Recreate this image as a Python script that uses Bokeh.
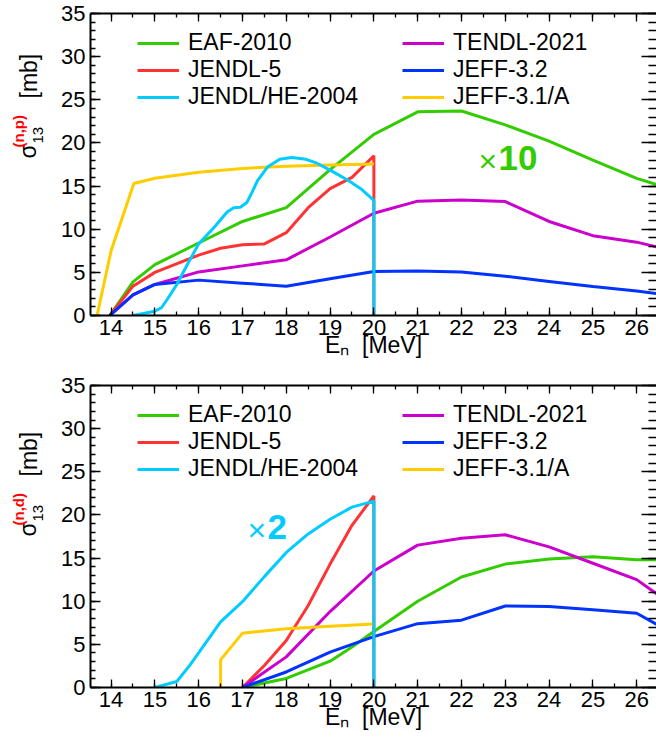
import math
from bokeh.plotting import figure
from bokeh.models import (Range1d, LinearAxis, SingleIntervalTicker, Label, Legend, LegendItem)
from bokeh.layouts import column, row
from bokeh.embed import file_html
from bokeh.resources import INLINE

FONT = "Liberation Sans"

# ---------------- data ----------------
names = ["EAF-2010", "JENDL-5", "JENDL/HE-2004", "TENDL-2021", "JEFF-3.2", "JEFF-3.1/A"]
colors = ["#33cc00", "#ff3333", "#00ccff", "#cc00cc", "#0033ff", "#ffcc00"]
x_ticks_major = 1
y_ticks_major = 5

# (n,p) panel, cross sections in mb vs E_n in MeV
np_eaf_e = [13.97, 14.5, 15, 16, 17, 18, 19, 20, 21, 22, 23, 24, 25, 26, 26.5]
np_eaf_s = [0, 3.9, 5.9, 8.4, 10.9, 12.5, 16.9, 21.0, 23.6, 23.7, 22.1, 20.2, 18.0, 15.9, 15.1]
np_jendl5_e = [13.97, 14.5, 15, 16, 16.5, 17, 17.5, 18, 18.5, 19, 19.5, 20, 20]
np_jendl5_s = [0, 3.4, 5.0, 7.0, 7.8, 8.2, 8.3, 9.6, 12.5, 14.7, 16.0, 18.5, 0]
np_jendlhe_e = [14.5, 15.0, 15.15, 15.3, 15.5, 15.75, 16.0, 16.35, 16.65, 16.8, 16.95, 17.1,
                17.22, 17.34, 17.57, 17.85, 18.13, 18.45, 18.7, 19.0, 19.4, 19.7, 20.0, 20.0]
np_jendlhe_s = [0, 0.5, 0.9, 2.0, 3.6, 6.0, 8.3, 10.2, 12.0, 12.5, 12.55, 13.1,
                14.3, 15.6, 17.2, 18.1, 18.3, 18.1, 17.65, 16.85, 15.7, 14.7, 13.35, 0]
np_tendl_e = [13.97, 14.5, 15, 16, 17, 18, 19, 20, 21, 22, 23, 24, 25, 26, 26.5]
np_tendl_s = [0, 2.4, 3.6, 5.05, 5.75, 6.45, 9.1, 11.85, 13.25, 13.4, 13.2, 10.9, 9.25, 8.5, 7.9]
np_jeff32_e = [13.97, 14.5, 15, 16, 17, 18, 19, 20, 21, 22, 23, 24, 25, 26, 26.5]
np_jeff32_s = [0, 2.4, 3.6, 4.1, 3.75, 3.4, 4.25, 5.1, 5.15, 5.05, 4.55, 3.95, 3.35, 2.85, 2.5]
np_jeff31_e = [13.68, 14.0, 14.52, 15, 16, 17, 18, 19, 20]
np_jeff31_s = [0, 7.5, 15.3, 15.9, 16.6, 17.05, 17.3, 17.45, 17.55]

# (n,d) panel
nd_eaf_e = [17, 18, 19, 19.5, 20, 21, 22, 23, 24, 25, 26, 26.5]
nd_eaf_s = [0, 1.05, 3.05, 4.7, 6.5, 10.0, 12.8, 14.3, 14.9, 15.15, 14.8, 14.8]
nd_jendl5_e = [17, 17.5, 18, 18.5, 19, 19.5, 20, 20]
nd_jendl5_s = [0, 2.55, 5.45, 9.5, 14.3, 18.8, 22.2, 0]
nd_jendlhe_e = [15, 15.5, 15.8, 16.5, 17, 17.5, 18, 18.5, 19, 19.5, 20, 20]
nd_jendlhe_s = [0, 0.7, 2.6, 7.6, 9.95, 12.85, 15.65, 17.8, 19.5, 20.9, 21.6, 0]
nd_tendl_e = [17, 18, 19, 20, 21, 22, 23, 24, 25, 26, 26.5]
nd_tendl_s = [0, 3.55, 8.8, 13.5, 16.5, 17.3, 17.7, 16.3, 14.4, 12.5, 10.7]
nd_jeff32_e = [17, 18, 19, 20, 21, 22, 23, 24, 25, 26, 26.5]
nd_jeff32_s = [0, 1.8, 4.1, 5.9, 7.4, 7.8, 9.45, 9.4, 9.0, 8.6, 7.2]
nd_jeff31_e = [16.5, 16.5, 17, 18, 19, 20]
nd_jeff31_s = [0, 3.2, 6.3, 6.8, 7.1, 7.35]

np_series = [(np_eaf_e, np_eaf_s), (np_jendl5_e, np_jendl5_s), (np_jendlhe_e, np_jendlhe_s),
             (np_tendl_e, np_tendl_s), (np_jeff32_e, np_jeff32_s), (np_jeff31_e, np_jeff31_s)]
nd_series = [(nd_eaf_e, nd_eaf_s), (nd_jendl5_e, nd_jendl5_s), (nd_jendlhe_e, nd_jendlhe_s),
             (nd_tendl_e, nd_tendl_s), (nd_jeff32_e, nd_jeff32_s), (nd_jeff31_e, nd_jeff31_s)]

# ---------------- layout constants ----------------
W = 656
WL = 50          # width of the strip holding the y-axis title
FL = 90          # frame left (page px)
FRAME_W = W - FL
FRAME_H = 302
TOP = 13
X0 = 13.53
SX = 43.8        # px per MeV
X1 = X0 + FRAME_W / SX


def style_axis(ax, tick_in, minor_in, show_labels):
    ax.axis_line_width = 2
    ax.axis_line_color = "black"
    ax.major_tick_in = tick_in
    ax.major_tick_out = 0
    ax.minor_tick_in = minor_in
    ax.minor_tick_out = 0
    ax.major_tick_line_width = 1.3
    ax.minor_tick_line_width = 1.3
    ax.major_tick_line_color = "black"
    ax.minor_tick_line_color = "black"
    ax.major_label_text_font = FONT
    if show_labels:
        ax.major_label_text_font_size = "22px"
        ax.major_label_text_color = "black"
        ax.major_label_standoff = 4
    else:
        ax.major_label_text_font_size = "1px"
        ax.major_label_text_color = None
        ax.major_label_standoff = 0


def title_strip(height, reaction):
    s = figure(width=WL, height=height, x_range=Range1d(0, WL), y_range=Range1d(0, height),
               output_backend="svg", toolbar_location=None, x_axis_type=None, y_axis_type=None,
               min_border=0)
    s.outline_line_color = None
    s.grid.visible = False
    a = math.pi / 2

    def lab(text, px, py_rel, size, color="black", bold=False):
        s.add_layout(Label(x=px, y=height - (TOP + py_rel), x_units="screen", y_units="screen",
                           text=text, angle=a, angle_units="rad",
                           text_font=FONT, text_font_size=size, text_color=color,
                           text_font_style="bold" if bold else "normal",
                           text_align="left", text_baseline="middle"))
    lab("σ", 27, 202, "23px")
    lab("13", 37, 187, "15px")
    lab(reaction, 17.5, 191, "15px", color="#ff0000", bold=True)
    lab("[mb]", 28, 142, "23px")
    return s


def make_panel(series, height, bottom_border, mult, mult_color, mult_pos):
    p = figure(width=W - WL, height=height, x_range=Range1d(X0, X1), y_range=Range1d(0, 35),
               output_backend="svg", toolbar_location=None,
               x_axis_type=None, y_axis_type=None,
               min_border_left=FL - WL, min_border_right=0,
               min_border_top=TOP, min_border_bottom=bottom_border)
    p.outline_line_color = None

    xb = LinearAxis(ticker=SingleIntervalTicker(interval=x_ticks_major, num_minor_ticks=2))
    style_axis(xb, 8, 4, True)
    xb.axis_label = "Eₙ\u00a0\u00a0[MeV]"
    xb.axis_label_text_font = FONT
    xb.axis_label_text_font_size = "23px"
    xb.axis_label_text_font_style = "normal"
    xb.axis_label_text_color = "black"
    xb.axis_label_standoff = -6
    p.add_layout(xb, "below")
    xt = LinearAxis(ticker=SingleIntervalTicker(interval=x_ticks_major, num_minor_ticks=2))
    style_axis(xt, 8, 4, False)
    p.add_layout(xt, "above")
    yl = LinearAxis(ticker=SingleIntervalTicker(interval=y_ticks_major, num_minor_ticks=5))
    style_axis(yl, 10, 5, True)
    yl.major_label_standoff = 5
    p.add_layout(yl, "left")
    yr = LinearAxis(ticker=SingleIntervalTicker(interval=y_ticks_major, num_minor_ticks=5))
    style_axis(yr, 15, 8, False)
    yr.axis_line_color = None
    p.add_layout(yr, "right")

    order = [0, 1, 3, 4, 5, 2]
    rmap = {}
    for i in order:
        e, s = series[i]
        rmap[i] = p.line(e, s, line_color=colors[i], line_width=3)
    renderers = [rmap[i] for i in range(6)]

    def leg(idx, xloc):
        L = Legend(items=[LegendItem(label=names[i], renderers=[renderers[i]]) for i in idx],
                   location=(xloc, 205), orientation="vertical",
                   label_text_font=FONT, label_text_font_size="23px",
                   label_text_color="black", glyph_width=42, glyph_height=20,
                   label_height=20, label_standoff=9, spacing=0, padding=0, margin=0,
                   border_line_color=None, background_fill_alpha=0)
        p.add_layout(L)
    leg([0, 1, 2], 47)
    leg([3, 4, 5], 312)

    # multiplier note inside the frame (screen px relative to frame)
    def lab(text, px, py_rel, size, color, bold=False):
        p.add_layout(Label(x=px - FL, y=FRAME_H - py_rel, x_units="screen", y_units="screen",
                           text=text, text_font=FONT, text_font_size=size, text_color=color,
                           text_font_style="bold" if bold else "normal",
                           text_align="left", text_baseline="middle"))
    mx, my_x, my_n = mult_pos
    lab("×", mx, my_x, "32px", mult_color)
    lab(mult, mx + 20, my_n, "35px", mult_color, bold=True)
    return p


H1, H2 = 372, 366
p1 = make_panel(np_series, H1, H1 - TOP - FRAME_H, "10", "#33cc00", (478, 147.5, 144.5))
p2 = make_panel(nd_series, H2, H2 - TOP - FRAME_H, "2", "#00ccff", (247, 144, 141.5))
s1 = title_strip(H1, "(n,p)")
s2 = title_strip(H2, "(n,d)")

layout = column(row(s1, p1, spacing=0), row(s2, p2, spacing=0), spacing=0)
open("out.html", "w").write(file_html(layout, INLINE))
